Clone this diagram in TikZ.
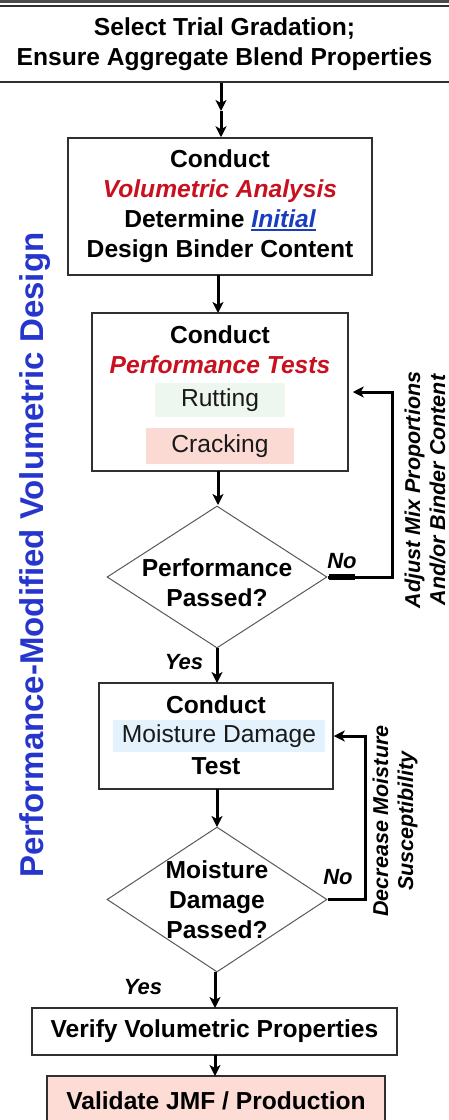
\documentclass[tikz,border=0pt]{standalone}
\usepackage{fontspec}
\setmainfont{Liberation Sans}
\usetikzlibrary{shapes.geometric,arrows.meta}

\definecolor{boxline}{HTML}{303030}
\definecolor{tred}{HTML}{C8101E}
\definecolor{tblue}{HTML}{1A3CC0}
\definecolor{sideblue}{HTML}{2636CC}
\definecolor{ruttbg}{HTML}{EDF6EF}
\definecolor{crackbg}{HTML}{FCDAD4}
\definecolor{moistbg}{HTML}{E3F2FC}
\definecolor{jmfbg}{HTML}{FCDCD5}

% thick underline for emphasised words
\newcommand\thickul[1]{\setbox0\hbox{#1}\rlap{\rule[-3.5pt]{\wd0}{2.6pt}}\box0}

\begin{document}
\begin{tikzpicture}[x=1pt,y=-1pt,
  frame/.style={draw=boxline, line width=1.5pt, fill=white, inner sep=0pt},
  main/.style={font=\fontsize{24.6}{30}\selectfont\bfseries, align=center, inner sep=0pt},
  plain/.style={font=\fontsize{24.6}{30}\selectfont, text=black!90, inner sep=0pt},
  arr/.style={line width=3pt, -{Stealth[length=11pt,width=11pt,inset=3pt]}},
  choice/.style={diamond, draw=black!65, line width=1pt, fill=white, inner sep=0pt},
  sidenote/.style={font=\fontsize{21.5}{25}\selectfont\bfseries\itshape, align=center, rotate=90},
  answer/.style={font=\fontsize{22}{26}\selectfont\bfseries\itshape, inner sep=0pt}]

\useasboundingbox (0,0) rectangle (449,1120);

% heading rule
\draw[line width=3pt, black!70] (-5,1) -- (454,1);

% top box
\node[frame, main, minimum width=459pt, minimum height=76pt] (top) at (224.5,44)
  {Select Trial Gradation;\\Ensure Aggregate Blend Properties};

% volumetric analysis box
\node[frame, main, minimum width=304pt, minimum height=137pt] (vol) at (220,206.5)
  {Conduct\\{\color{tred}\itshape Volumetric Analysis}\\
   Determine {\color{tblue}\itshape\thickul{Initial}}\\Design Binder Content};

% performance tests box
\node[frame, minimum width=256pt, minimum height=158pt] (perf) at (220,392) {};
\node[main] (perftxt) at (220,350) {Conduct\\{\color{tred}\itshape Performance Tests}};
\node[plain, fill=ruttbg, minimum width=130pt, minimum height=34pt] (rut) at (220,400) {Rutting};
\node[plain, fill=crackbg, minimum width=148pt, minimum height=36pt] (crack) at (220,446) {Cracking};

% performance decision
\node[choice, minimum width=220pt, minimum height=142pt] (dperf) at (217,577) {};
\node[main] (dperftxt) at (217,583) {Performance\\Passed?};

% moisture damage box
\node[frame, minimum width=234pt, minimum height=106pt] (moist) at (216,736) {};
\node[main] (moistc) at (216,705) {Conduct};
\node[plain, fill=moistbg, minimum width=212pt, minimum height=32pt] (moistbg) at (219,736) {Moisture Damage};
\node[main] (moistt) at (216,766) {Test};

% moisture decision
\node[choice, minimum width=220pt, minimum height=145pt] (dmoist) at (217,899.5) {};
\node[main] (dmoisttxt) at (217,900) {Moisture\\Damage\\Passed?};

% verify and validate boxes
\node[frame, main, minimum width=365pt, minimum height=47pt] (verify) at (214.5,1031.5)
  {Verify Volumetric Properties};
\node[frame, main, fill=jmfbg, minimum width=338pt, minimum height=54pt] (jmf) at (216,1103)
  {\raisebox{5pt}{Validate JMF / Production}};

% main flow
\coordinate (mid) at (221,111);
\draw[arr] (top.south -| mid) -- (mid);
\draw[arr] (mid) -- (mid |- vol.north);
\draw[arr] (218,275) -- (218,313);
\draw[arr] (218,471) -- (218,505);
\draw[arr] (217,648) -- (217,683);
\draw[arr] (217,789) -- (217,827);
\draw[arr] (215,972) -- (215,1008);
\draw[arr] (215,1055) -- (215,1076);

% feedback loops
\coordinate (fbperf) at (392,392);
\coordinate (fbmoist) at (365,736);
\draw[arr, shorten >=4pt] (dperf.east) -| (fbperf) -- (perf.east);
\draw[line width=6pt] (dperf.east) ++(1,0) -- ++(26,0);
\draw[arr] (dmoist.east) -| (fbmoist) -- (moist.east);

% answers
\node[answer] (noperf) at (342,561) {No};
\node[answer] (yesperf) at (184,662) {Yes};
\node[answer] (nomoist) at (338,877) {No};
\node[answer] (yesmoist) at (143,987) {Yes};

% loop notes
\node[sidenote] (adjust) at (425,490) {Adjust Mix Proportions\\And/or Binder Content};
\node[sidenote] (decrease) at (395,821) {Decrease Moisture\\Susceptibility};

% side title
\node[rotate=90, text=sideblue, font=\fontsize{33}{38}\selectfont\bfseries] (title) at (35,555)
  {Performance-Modified Volumetric Design};
\end{tikzpicture}
\end{document}
